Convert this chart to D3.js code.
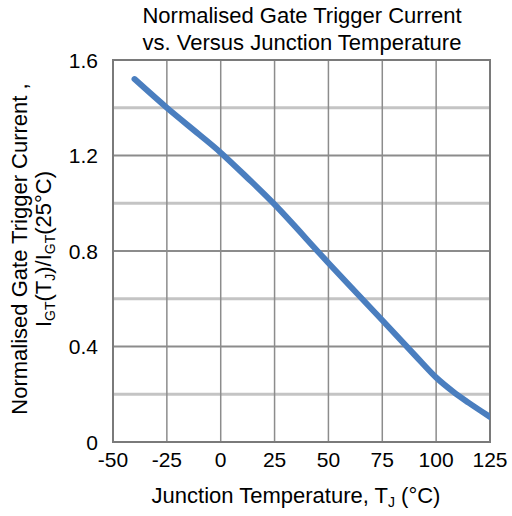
<!DOCTYPE html>
<html>
<head>
<meta charset="utf-8">
<script src="https://cdn.jsdelivr.net/npm/d3@7"></script>
<style>
  body { margin: 0; background: #fff; }
  svg text { font-family: "Liberation Sans", Arial, sans-serif; fill: #000; }
</style>
</head>
<body>
<svg id="chart" width="512" height="516"></svg>
<script>
// data
var temps = [-40, -25, -10, 0, 12, 25, 50, 75, 90, 100, 108, 115, 125];
var ratio = [1.52, 1.40, 1.288, 1.212, 1.11, 0.995, 0.75, 0.51, 0.365, 0.27, 0.21, 0.165, 0.105];
var xTicks = [-50, -25, 0, 25, 50, 75, 100, 125];
var yTicks = [0, 0.4, 0.8, 1.2, 1.6];
var yMinor = [0.2, 0.6, 1.0, 1.4];

var svg = d3.select("#chart");
// note: "top" clashes with window.top, so prefix everything
var plotL = 113, plotR = 490, plotT = 60, plotB = 442;

var x = d3.scaleLinear().domain([-50, 125]).range([plotL, plotR]);
var y = d3.scaleLinear().domain([0, 1.6]).range([plotB, plotT]);

// minor horizontal grid (lighter, thicker)
svg.append("g").selectAll("line").data(yMinor).enter().append("line")
  .attr("x1", plotL).attr("x2", plotR)
  .attr("y1", function(d) { return y(d); }).attr("y2", function(d) { return y(d); })
  .attr("stroke", "#c4c4c4").attr("stroke-width", 3);

// vertical grid
svg.append("g").selectAll("line").data(xTicks.slice(1, -1)).enter().append("line")
  .attr("x1", function(d) { return x(d); }).attr("x2", function(d) { return x(d); })
  .attr("y1", plotT).attr("y2", plotB)
  .attr("stroke", "#8c8c8c").attr("stroke-width", 1.5);

// major horizontal grid
svg.append("g").selectAll("line").data(yTicks.slice(1)).enter().append("line")
  .attr("x1", plotL).attr("x2", plotR)
  .attr("y1", function(d) { return y(d); }).attr("y2", function(d) { return y(d); })
  .attr("stroke", "#8c8c8c").attr("stroke-width", 2);

// frame
svg.append("rect")
  .attr("x", plotL).attr("y", plotT).attr("width", plotR - plotL).attr("height", plotB - plotT)
  .attr("fill", "none").attr("stroke", "#7a7a7a").attr("stroke-width", 2);

svg.append("clipPath").attr("id", "clip").append("rect")
  .attr("x", plotL).attr("y", plotT).attr("width", plotR - plotL).attr("height", plotB - plotT);

var line = d3.line()
  .x(function(d, i) { return x(temps[i]); })
  .y(function(d) { return y(d); })
  .curve(d3.curveCatmullRom.alpha(0.5));

svg.append("path")
  .datum(ratio)
  .attr("clip-path", "url(#clip)")
  .attr("d", line)
  .attr("fill", "none")
  .attr("stroke", "#4a7ebf")
  .attr("stroke-width", 6)
  .attr("stroke-linecap", "round");

// tick labels
svg.append("g").selectAll("text").data(xTicks).enter().append("text")
  .attr("x", function(d) { return x(d); }).attr("y", 467)
  .attr("text-anchor", "middle").style("font-size", "21px")
  .text(function(d) { return d; });

svg.append("g").selectAll("text").data(yTicks).enter().append("text")
  .attr("x", 98).attr("y", function(d) { return y(d); })
  .attr("dy", "0.36em")
  .attr("text-anchor", "end").style("font-size", "21px")
  .text(function(d) { return d === 0 ? "0" : d.toFixed(1); });

// title
var title = svg.append("text").attr("text-anchor", "middle").style("font-size", "22px");
title.append("tspan").attr("x", 302).attr("y", 23).text("Normalised Gate Trigger Current");
title.append("tspan").attr("x", 302).attr("y", 50).text("vs. Versus Junction Temperature");

// x axis title
var xt = svg.append("text").attr("x", 296).attr("y", 503)
  .attr("text-anchor", "middle").style("font-size", "22px");
xt.append("tspan").text("Junction Temperature, T");
xt.append("tspan").attr("dy", 4).style("font-size", "14px").text("J");
xt.append("tspan").attr("dy", -4).text(" (°C)");

// y axis title
var yt = svg.append("g").attr("transform", "translate(27,249) rotate(-90)");
yt.append("text").attr("text-anchor", "middle").style("font-size", "22px")
  .text("Normalised Gate Trigger Current ,");
var y2 = yt.append("text").attr("y", 24).attr("text-anchor", "middle").style("font-size", "22px");
y2.append("tspan").text("I");
y2.append("tspan").attr("dy", 4).style("font-size", "14px").text("GT");
y2.append("tspan").attr("dy", -4).text("(T");
y2.append("tspan").attr("dy", 4).style("font-size", "14px").text("J");
y2.append("tspan").attr("dy", -4).text(")/I");
y2.append("tspan").attr("dy", 4).style("font-size", "14px").text("GT");
y2.append("tspan").attr("dy", -4).text("(25°C)");
</script>
</body>
</html>
